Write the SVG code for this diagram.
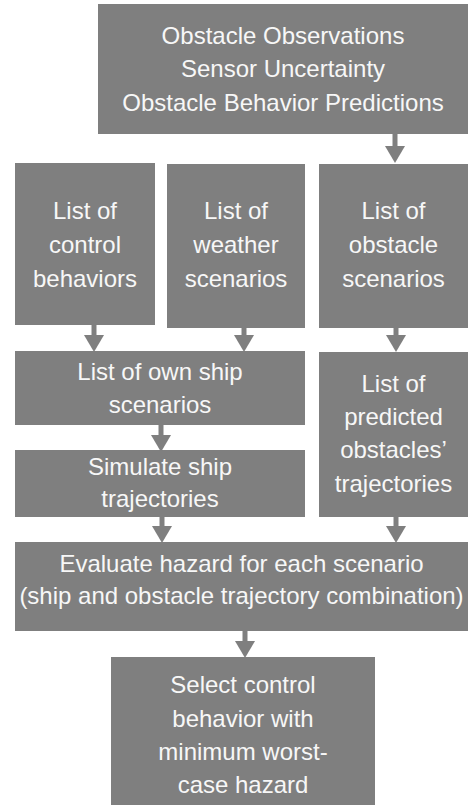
<svg xmlns="http://www.w3.org/2000/svg" width="468" height="805" viewBox="0 0 468 805">
  <defs>
    <style>
      .box { fill: #7f7f7f; }
      .t { font-family: "Liberation Sans", Arial, sans-serif; font-size: 24px; fill: #f7f7f7; text-anchor: middle; }
      .c { stroke: #7f7f7f; stroke-width: 5; fill: none; }
    </style>
    <marker id="ah" markerUnits="userSpaceOnUse" viewBox="0 0 17 20" markerWidth="17" markerHeight="20" refX="5" refY="10" orient="auto">
      <path d="M0,0 L17,10 L0,20 z" fill="#7f7f7f"/>
    </marker>
  </defs>
  <rect width="468" height="805" fill="#ffffff"/>

  <g id="inputs">
    <rect class="box" x="98" y="4" width="370" height="130"/>
    <text class="t" x="283" y="43.5">Obstacle Observations</text>
    <text class="t" x="283" y="77">Sensor Uncertainty</text>
    <text class="t" x="283" y="110.5">Obstacle Behavior Predictions</text>
  </g>

  <g id="control-behaviors">
    <rect class="box" x="15" y="163" width="140" height="162"/>
    <text class="t" x="85" y="219">List of</text>
    <text class="t" x="85" y="253">control</text>
    <text class="t" x="85" y="287">behaviors</text>
  </g>

  <g id="weather-scenarios">
    <rect class="box" x="167" y="164" width="138" height="164"/>
    <text class="t" x="236" y="219">List of</text>
    <text class="t" x="236" y="253">weather</text>
    <text class="t" x="236" y="287">scenarios</text>
  </g>

  <g id="obstacle-scenarios">
    <rect class="box" x="319" y="164" width="149" height="164"/>
    <text class="t" x="393.5" y="219">List of</text>
    <text class="t" x="393.5" y="253">obstacle</text>
    <text class="t" x="393.5" y="287">scenarios</text>
  </g>

  <g id="own-ship-scenarios">
    <rect class="box" x="15" y="351" width="290" height="74"/>
    <text class="t" x="160" y="380">List of own ship</text>
    <text class="t" x="160" y="413">scenarios</text>
  </g>

  <g id="predicted-trajectories">
    <rect class="box" x="319" y="352" width="149" height="165"/>
    <text class="t" x="393.5" y="392">List of</text>
    <text class="t" x="393.5" y="425">predicted</text>
    <text class="t" x="393.5" y="458">obstacles’</text>
    <text class="t" x="393.5" y="492">trajectories</text>
  </g>

  <g id="simulate">
    <rect class="box" x="15" y="450" width="290" height="67"/>
    <text class="t" x="160" y="475">Simulate ship</text>
    <text class="t" x="160" y="507">trajectories</text>
  </g>

  <g id="evaluate">
    <rect class="box" x="15" y="542" width="453" height="89"/>
    <text class="t" x="241.5" y="572">Evaluate hazard for each scenario</text>
    <text class="t" x="241.5" y="604">(ship and obstacle trajectory combination)</text>
  </g>

  <g id="select">
    <rect class="box" x="111" y="657" width="264" height="148"/>
    <text class="t" x="243" y="693">Select control</text>
    <text class="t" x="243" y="727">behavior with</text>
    <text class="t" x="243" y="760">minimum worst-</text>
    <text class="t" x="243" y="793">case hazard</text>
  </g>

  <g id="connectors">
    <line class="c" x1="395" y1="134" x2="395" y2="151" marker-end="url(#ah)"/>
    <line class="c" x1="94" y1="325" x2="94" y2="340" marker-end="url(#ah)"/>
    <line class="c" x1="244" y1="328" x2="244" y2="340" marker-end="url(#ah)"/>
    <line class="c" x1="396" y1="328" x2="396" y2="340" marker-end="url(#ah)"/>
    <line class="c" x1="161" y1="425" x2="161" y2="440" marker-end="url(#ah)"/>
    <line class="c" x1="162" y1="517" x2="162" y2="531" marker-end="url(#ah)"/>
    <line class="c" x1="396" y1="517" x2="396" y2="531" marker-end="url(#ah)"/>
    <line class="c" x1="245" y1="631" x2="245" y2="646" marker-end="url(#ah)"/>
  </g>
</svg>
